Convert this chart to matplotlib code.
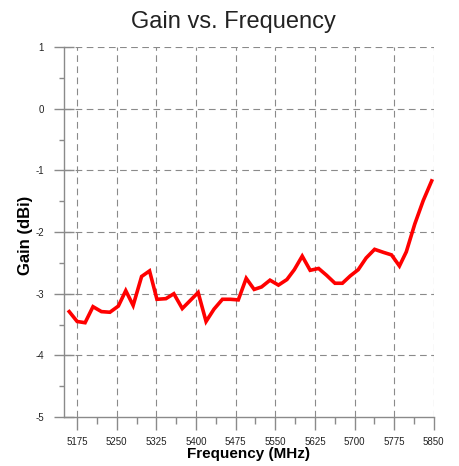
import matplotlib
matplotlib.use("Agg")
import matplotlib.pyplot as plt
from matplotlib.ticker import MultipleLocator

plt.rcParams['font.family'] = ['Liberation Sans', 'DejaVu Sans']
plt.rcParams['axes.unicode_minus'] = False
plt.rcParams['lines.scale_dashes'] = False

freq_mhz = [5160, 5175, 5190, 5205, 5221, 5237, 5253, 5267, 5281, 5297,
            5312, 5326, 5343, 5358, 5374, 5389, 5404, 5419, 5434, 5450,
            5465, 5480, 5495, 5510, 5524, 5540, 5556, 5572, 5586, 5601,
            5616, 5632, 5647, 5663, 5677, 5692, 5707, 5722, 5738, 5755,
            5770, 5785, 5798, 5814, 5830, 5846]
gain_dbi = [-3.29, -3.45, -3.47, -3.21, -3.29, -3.30, -3.20, -2.95, -3.19, -2.72,
            -2.63, -3.09, -3.08, -3.00, -3.24, -3.11, -2.98, -3.45, -3.25, -3.09,
            -3.09, -3.10, -2.75, -2.93, -2.89, -2.78, -2.86, -2.77, -2.61, -2.39,
            -2.62, -2.59, -2.70, -2.83, -2.83, -2.71, -2.61, -2.42, -2.28, -2.33,
            -2.37, -2.55, -2.32, -1.87, -1.49, -1.17]

x_ticks = [5175, 5250, 5325, 5400, 5475, 5550, 5625, 5700, 5775, 5850]
y_ticks = [-5, -4, -3, -2, -1, 0, 1]

fig = plt.figure(figsize=(4.6, 4.66), dpi=100)
ax = fig.add_axes([0.139, 0.105, 0.804, 0.794])

ax.plot(freq_mhz, gain_dbi, color='#ff0000', lw=2.6, solid_joinstyle='miter', zorder=3)

ax.set_xlim(5150, 5850)
ax.set_ylim(-5, 1)
ax.set_xticks(x_ticks)
ax.set_yticks(y_ticks)
ax.xaxis.set_minor_locator(MultipleLocator(37.5))
ax.yaxis.set_minor_locator(MultipleLocator(0.5))

grid_kw = dict(color='#8a8a8a', lw=0.8, ls=(0, (4.8, 3.2)))
for xv in x_ticks:
    ax.axvline(xv, zorder=1, **grid_kw)
for yv in y_ticks[1:]:
    ax.axhline(yv, zorder=1, **grid_kw)

for s in ['top', 'right']:
    ax.spines[s].set_visible(False)
for s in ['left', 'bottom']:
    ax.spines[s].set_color('#8a8a8a')
    ax.spines[s].set_linewidth(1.0)

ax.tick_params(axis='x', which='major', direction='out', length=9.4, width=1,
               color='#8a8a8a', labelsize=7, labelcolor='#222222', pad=5.2)
ax.tick_params(axis='x', which='minor', direction='out', length=4.8, width=1,
               color='#8a8a8a')
ax.tick_params(axis='y', which='major', direction='inout', length=14, width=1,
               color='#8a8a8a', labelsize=7, labelcolor='#222222', pad=7.5)
ax.tick_params(axis='y', which='minor', direction='out', length=3.8, width=1,
               color='#8a8a8a')

ax.set_xlabel('Frequency (MHz)', fontsize=11, fontweight='bold')
ax.xaxis.set_label_coords(0.5, -0.082)
ax.set_ylabel('Gain (dBi)', fontsize=12, fontweight='bold')
ax.yaxis.set_label_coords(-0.083, 0.49)

fig.text(0.508, 0.952, 'Gain vs. Frequency', ha='center', va='center',
         fontsize=17, color='#222222')

fig.savefig('out.png', dpi=100)
